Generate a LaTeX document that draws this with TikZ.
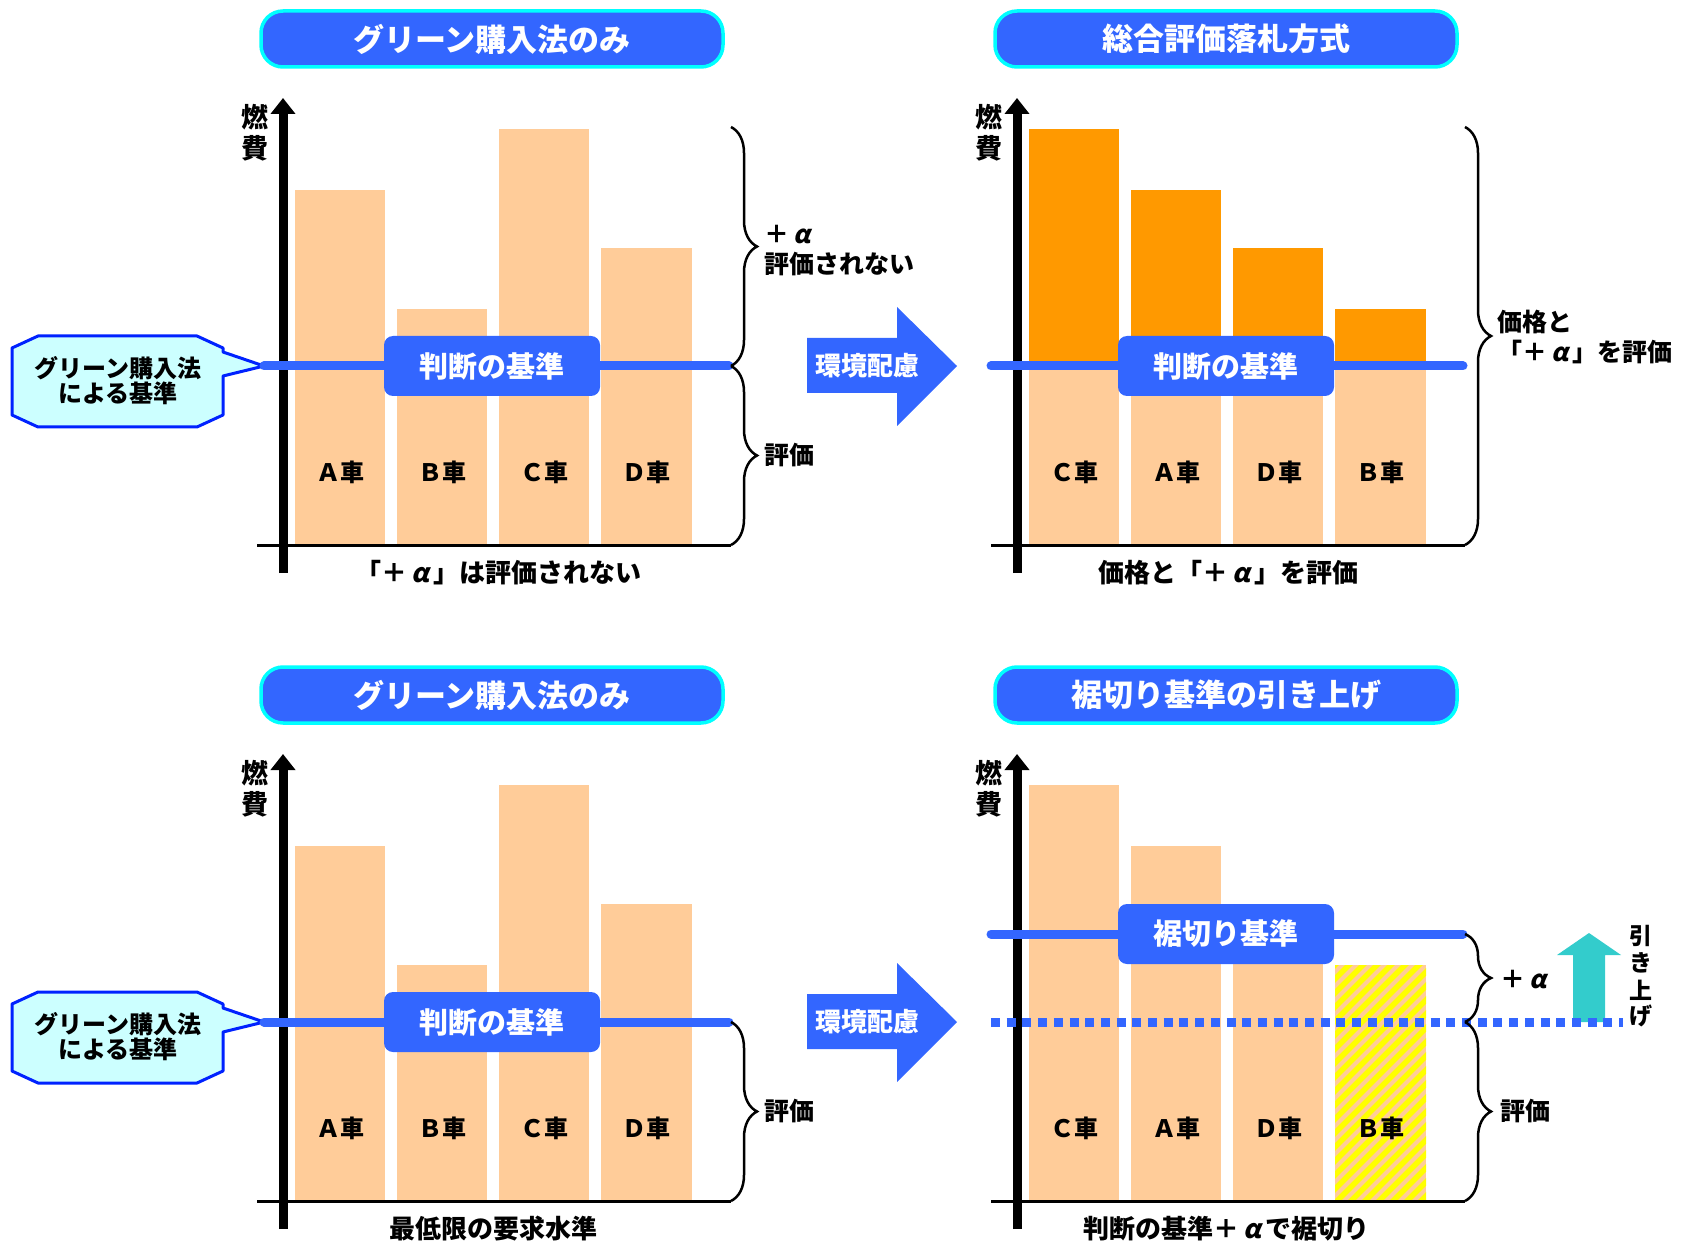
\documentclass[tikz,border=0pt]{standalone}
\usepackage{fontspec}
\setmainfont{Noto Sans CJK JP}
\newfontfamily\alfont{Noto Sans CJK JP}[FakeSlant=0.22]
\usetikzlibrary{arrows.meta,decorations.pathreplacing}
\definecolor{myblue}{HTML}{3366FF}
\definecolor{titlecyan}{HTML}{00FFFF}
\definecolor{peach}{HTML}{FFCC99}
\definecolor{myorange}{HTML}{FF9900}
\definecolor{myteal}{HTML}{33CCCC}
\definecolor{calloutfill}{HTML}{CCFFFF}
\definecolor{calloutline}{HTML}{0022FF}
\definecolor{hatchyellow}{HTML}{FFFF00}
\newcommand\fsz[1]{\fontsize{#1}{#1}\selectfont\bfseries}
\newcommand\al{\makebox[1em][c]{\alfont\bfseries α}}
\tikzset{
  titlebox/.style={draw=titlecyan, line width=3.5pt, fill=myblue, rounded corners=22pt,
    minimum width=462pt, minimum height=56pt, inner sep=0pt, text=white, font=\fsz{31}},
  critbox/.style={fill=myblue, rounded corners=9pt, minimum width=216pt, minimum height=60pt,
    inner sep=0pt, text=white, font=\fsz{29}},
  barlabel/.style={font=\fsz{24}, inner sep=0pt},
  sidelbl/.style={font=\fsz{25}, inner sep=0pt, anchor=west},
  caption/.style={font=\fsz{26}, inner sep=0pt},
  axislbl/.style={font=\fsz{27}, inner sep=0pt},
  yaxis/.style={line width=9pt, -{Triangle[width=24pt,length=16pt]}},
  baseln/.style={line width=3pt},
  critline/.style={myblue, line width=9pt, line cap=round},
  bracestyle/.style={decorate, decoration={brace, amplitude=26pt}, line width=2.5pt},
  calloutshape/.style={fill=calloutfill, draw=calloutline, line width=3pt, line join=round},
  calloutlbl/.style={font=\fsz{24}, inner sep=0pt, align=center},
  bigarrow/.style={fill=myblue},
  arrowlbl/.style={font=\fsz{26}, inner sep=0pt, text=white},
}
\begin{document}
\begin{tikzpicture}[x=1pt,y=-1pt]
\useasboundingbox (0,0) rectangle (1695,1246);

%================ TOP-LEFT =================
\node[titlebox] (t1) at (492,39) {グリーン購入法のみ};
\fill[peach] (295,190) rectangle (385,545);
\fill[peach] (397,309) rectangle (487,545);
\fill[peach] (499,129) rectangle (589,545);
\fill[peach] (601,248) rectangle (692,545);
\node[barlabel] (l1a) at (340,472) {Ａ車};
\node[barlabel] (l1b) at (442,472) {Ｂ車};
\node[barlabel] (l1c) at (544,472) {Ｃ車};
\node[barlabel] (l1d) at (646,472) {Ｄ車};
\coordinate (b1l) at (257,545); \coordinate (b1r) at (731,545);
\draw[baseln] (b1l) -- (b1r);
\coordinate (a1b) at (283,573); \coordinate (a1t) at (283,98);
\draw[yaxis] (a1b) -- (a1t);
\node[axislbl] (y1a) at (255,117) {燃};
\node[axislbl] (y1b) at (255,148) {費};
% callout
\draw[calloutshape] (38,336) -- (197,336) -- (223,348) -- (223,352) -- (264,366) -- (223,376)
  -- (223,415) -- (197,427) -- (38,427) -- (12,415) -- (12,348) -- cycle;
\coordinate (c1tip) at (264,366);
\node[calloutlbl] (c1) at (118,381) {グリーン購入法\\[1pt]による基準};
\coordinate (k1r) at (729,366);
\draw[critline] (c1tip) -- (k1r);
\node[critbox] (k1) at (492,366) {判断の基準};
\coordinate (br1a) at (731,127); \coordinate (br1b) at (731,366);
\draw[bracestyle] (br1a) -- (br1b);
\draw[bracestyle] (br1b) -- (b1r);
\node[sidelbl] (s1a) at (764,235) {＋\al{}};
\node[sidelbl] (s1b) at (764,264) {評価されない};
\node[sidelbl] (s1c) at (764,455) {評価};
\node[caption] (cap1) at (498,573) {「＋\al{}」は評価されない};
% big arrow
\fill[bigarrow] (807,338) -- (897,338) -- (897,307) -- (957,366) -- (897,426) -- (897,393) -- (807,393) -- cycle;
\node[arrowlbl] (ar1) at (867,366) {環境配慮};

%================ TOP-RIGHT =================
\node[titlebox] (t2) at (1226,39) {総合評価落札方式};
\fill[myorange] (1029,129) rectangle (1119,366);
\fill[myorange] (1131,190) rectangle (1221,366);
\fill[myorange] (1233,248) rectangle (1323,366);
\fill[myorange] (1335,309) rectangle (1426,366);
\fill[peach] (1029,366) rectangle (1119,545);
\fill[peach] (1131,366) rectangle (1221,545);
\fill[peach] (1233,366) rectangle (1323,545);
\fill[peach] (1335,366) rectangle (1426,545);
\node[barlabel] (l2c) at (1074,472) {Ｃ車};
\node[barlabel] (l2a) at (1176,472) {Ａ車};
\node[barlabel] (l2d) at (1278,472) {Ｄ車};
\node[barlabel] (l2b) at (1380,472) {Ｂ車};
\coordinate (b2l) at (991,545); \coordinate (b2r) at (1465,545);
\draw[baseln] (b2l) -- (b2r);
\coordinate (a2b) at (1017,573); \coordinate (a2t) at (1017,98);
\draw[yaxis] (a2b) -- (a2t);
\node[axislbl] (y2a) at (989,117) {燃};
\node[axislbl] (y2b) at (989,148) {費};
\coordinate (k2l) at (991,366); \coordinate (k2r) at (1463,366);
\draw[critline] (k2l) -- (k2r);
\node[critbox] (k2) at (1226,366) {判断の基準};
\coordinate (br2a) at (1465,127);
\draw[bracestyle] (br2a) -- (b2r);
\node[sidelbl] (s2a) at (1497,322) {価格と};
\node[sidelbl] (s2b) at (1497,352) {「＋\al{}」を評価};
\node[caption] (cap2) at (1228,573) {価格と「＋\al{}」を評価};

%================ BOTTOM-LEFT =================
\node[titlebox] (t3) at (492,695) {グリーン購入法のみ};
\fill[peach] (295,846) rectangle (385,1201);
\fill[peach] (397,965) rectangle (487,1201);
\fill[peach] (499,785) rectangle (589,1201);
\fill[peach] (601,904) rectangle (692,1201);
\node[barlabel] (l3a) at (340,1128) {Ａ車};
\node[barlabel] (l3b) at (442,1128) {Ｂ車};
\node[barlabel] (l3c) at (544,1128) {Ｃ車};
\node[barlabel] (l3d) at (646,1128) {Ｄ車};
\coordinate (b3l) at (257,1201); \coordinate (b3r) at (731,1201);
\draw[baseln] (b3l) -- (b3r);
\coordinate (a3b) at (283,1229); \coordinate (a3t) at (283,754);
\draw[yaxis] (a3b) -- (a3t);
\node[axislbl] (y3a) at (255,773) {燃};
\node[axislbl] (y3b) at (255,804) {費};
\draw[calloutshape] (38,992) -- (197,992) -- (223,1004) -- (223,1008) -- (264,1022) -- (223,1032)
  -- (223,1071) -- (197,1083) -- (38,1083) -- (12,1071) -- (12,1004) -- cycle;
\coordinate (c3tip) at (264,1022);
\node[calloutlbl] (c3) at (118,1037) {グリーン購入法\\[1pt]による基準};
\coordinate (k3r) at (729,1022);
\draw[critline] (c3tip) -- (k3r);
\node[critbox] (k3) at (492,1022) {判断の基準};
\coordinate (br3a) at (731,1022);
\draw[bracestyle] (br3a) -- (b3r);
\node[sidelbl] (s3c) at (764,1111) {評価};
\node[caption] (cap3) at (493,1229) {最低限の要求水準};
\fill[bigarrow] (807,994) -- (897,994) -- (897,963) -- (957,1022) -- (897,1082) -- (897,1049) -- (807,1049) -- cycle;
\node[arrowlbl] (ar3) at (867,1022) {環境配慮};

%================ BOTTOM-RIGHT =================
\node[titlebox] (t4) at (1226,695) {裾切り基準の引き上げ};
\fill[peach] (1029,785) rectangle (1119,1201);
\fill[peach] (1131,846) rectangle (1221,1201);
\fill[peach] (1233,904) rectangle (1323,1201);
\fill[peach] (1335,965) rectangle (1426,1201);
\begin{scope}
  \clip (1335,965) rectangle (1426,1201);
  \foreach \c in {2286,2300,...,2650}
    \draw[hatchyellow, line width=5.6pt] ({\c-1210},1210) -- ({\c-955},955);
\end{scope}
\node[barlabel] (l4c) at (1074,1128) {Ｃ車};
\node[barlabel] (l4a) at (1176,1128) {Ａ車};
\node[barlabel] (l4d) at (1278,1128) {Ｄ車};
\node[barlabel] (l4b) at (1380,1128) {Ｂ車};
\coordinate (b4l) at (991,1201); \coordinate (b4r) at (1465,1201);
\draw[baseln] (b4l) -- (b4r);
\coordinate (a4b) at (1017,1229); \coordinate (a4t) at (1017,754);
\draw[yaxis] (a4b) -- (a4t);
\node[axislbl] (y4a) at (989,773) {燃};
\node[axislbl] (y4b) at (989,804) {費};
\coordinate (k4l) at (991,934); \coordinate (k4r) at (1463,934);
\draw[critline] (k4l) -- (k4r);
\node[critbox] (k4) at (1226,934) {裾切り基準};
% teal arrow
\fill[myteal] (1573,1022) -- (1605,1022) -- (1605,955) -- (1621,955) -- (1589,933) -- (1557,955) -- (1573,955) -- cycle;
\coordinate (d4l) at (991,1022); \coordinate (d4r) at (1623,1022);
\draw[myblue, line width=9pt, dash pattern=on 9pt off 6.7pt] (d4l) -- (d4r);
\coordinate (br4a) at (1465,934); \coordinate (br4b) at (1465,1022);
\draw[bracestyle] (br4a) -- (br4b);
\draw[bracestyle] (br4b) -- (b4r);
\node[sidelbl] (s4a) at (1500,980) {＋\al{}};
\node[sidelbl] (s4c) at (1500,1111) {評価};
\node[font=\fsz{23}, inner sep=0pt] (u1) at (1641,936) {引};
\node[font=\fsz{23}, inner sep=0pt] (u2) at (1641,963) {き};
\node[font=\fsz{23}, inner sep=0pt] (u3) at (1641,990) {上};
\node[font=\fsz{23}, inner sep=0pt] (u4) at (1641,1016) {げ};
\node[caption] (cap4) at (1226,1229) {判断の基準＋\al{}で裾切り};
\end{tikzpicture}
\end{document}
